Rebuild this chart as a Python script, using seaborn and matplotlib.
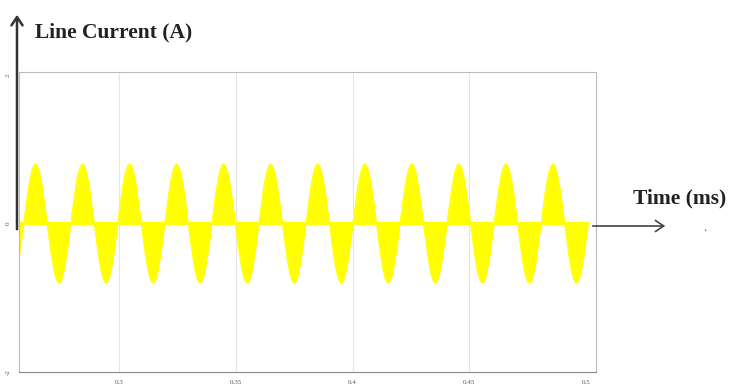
import numpy as np
import pandas as pd
import matplotlib
matplotlib.use("Agg")
import matplotlib.pyplot as plt
import seaborn as sns

# ---- data ----
x_ticks = [0.3, 0.35, 0.4, 0.45, 0.5]
x_tick_labels = ["0.3", "0.35", "0.4", "0.45", "0.5"]
y_ticks = [-2, 0, 2]
y_tick_labels = ["-2", "0", "2"]
x_range = [0.257, 0.5043]
y_range = [-1.98, 2.04]
signal_span = [0.257, 0.5009]   # s, where the trace is drawn
peak_current = 0.8              # A, amplitude of each lobe
line_freq = 49.6                # Hz, as measured from the lobe spacing
rising_zero = 0.259             # s, an upward zero crossing

sns.set_theme(style="white")
plt.rcParams['font.family'] = ['Liberation Serif', 'DejaVu Serif']

t = np.linspace(signal_span[0], signal_span[1], 6000)
current = peak_current * np.sin(2 * np.pi * line_freq * (t - rising_zero))
df = pd.DataFrame({"t": t, "i": current})

fig = plt.figure(figsize=(7.37, 3.89), dpi=100)
ax = fig.add_axes([19/737, 1-372/389, 577/737, 300/389])

ax.fill_between(df["t"], 0, df["i"], color="#ffff00", linewidth=0)
sns.lineplot(data=df, x="t", y="i", ax=ax, color="#ffff00", linewidth=0.8)
ax.plot(signal_span, [0, 0], color="#ffff00", linewidth=2.2, zorder=1)

ax.set_xlim(*x_range)
ax.set_ylim(*y_range)
ax.set_xticks(x_ticks)
ax.set_xticklabels(x_tick_labels)
ax.set_yticks(y_ticks)
ax.set_yticklabels(y_tick_labels, rotation=90, va="center")
ax.tick_params(axis="both", direction="in", length=5, labelsize=5,
               labelcolor="#555555", color="#888888", width=0.6, pad=6)
ax.set_xlabel("")
ax.set_ylabel("")
for x in x_ticks[:-1]:
    ax.axvline(x, color="#e6e6e6", linewidth=0.8, zorder=0)
for s in ax.spines.values():
    s.set_color("#bbbbbb")
    s.set_linewidth(0.8)
ax.spines["bottom"].set_color("#888888")

# annotation arrows in figure pixel coordinates
def fx(px):
    return px / 737
def fy(py):
    return 1 - py / 389

fig.add_artist(matplotlib.patches.FancyArrowPatch(
    (fx(17), fy(232)), (fx(17), fy(12)), transform=fig.transFigure,
    arrowstyle="->,head_length=6,head_width=4", color="#333333", linewidth=1.8))
fig.add_artist(matplotlib.patches.FancyArrowPatch(
    (fx(590), fy(226)), (fx(668), fy(226)), transform=fig.transFigure,
    arrowstyle="->,head_length=6,head_width=4", color="#444444", linewidth=1.2))

fig.text(fx(35), fy(32), "Line Current (A)", fontsize=15.5, fontweight="bold",
         color="#222222", va="center", ha="left")
fig.text(fx(633), fy(198), "Time (ms)", fontsize=15.5, fontweight="bold",
         color="#222222", va="center", ha="left")
fig.text(fx(705), fy(228), ".", fontsize=9, color="#555555", va="center", ha="center")

fig.savefig("out.png", dpi=100, facecolor="white")
